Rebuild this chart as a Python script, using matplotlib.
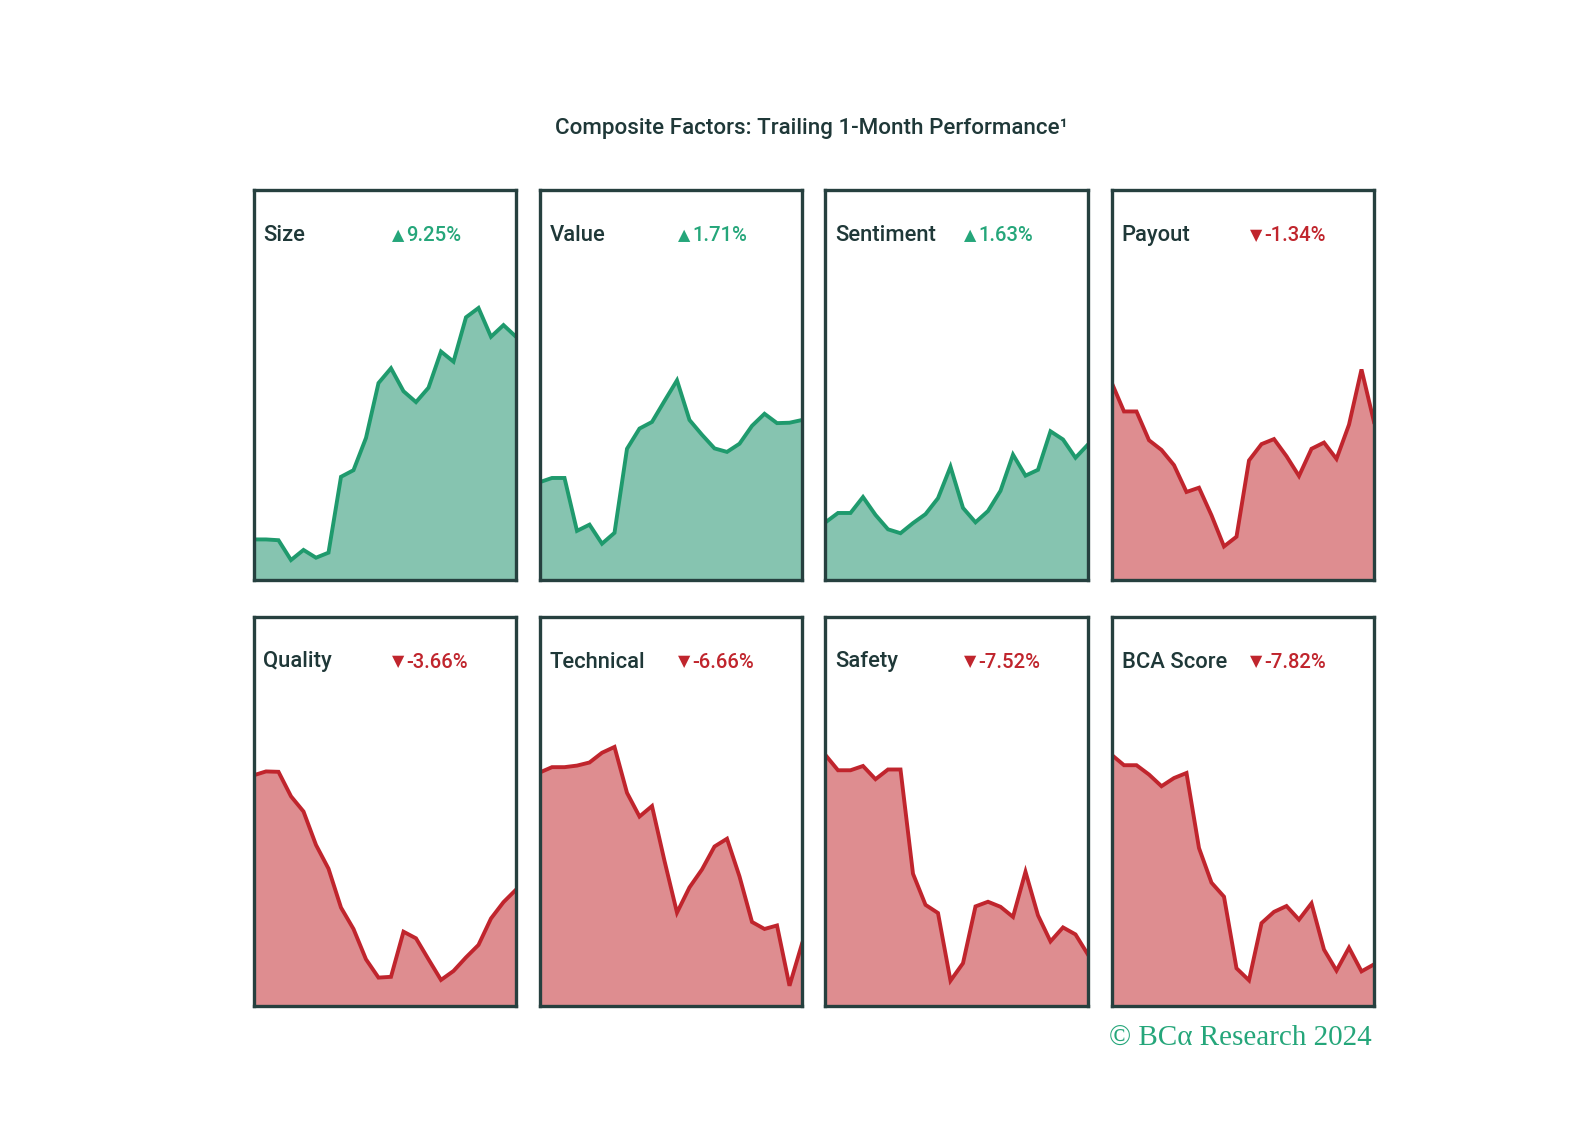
import matplotlib
matplotlib.use("Agg")
import matplotlib.pyplot as plt
import numpy as np

# trailing 1-month index paths (0-100 panel scale)
names = ["Size", "Value", "Sentiment", "Payout",
         "Quality", "Technical", "Safety", "BCA Score"]
returns = [9.25, 1.71, 1.63, -1.34, -3.66, -6.66, -7.52, -7.82]

size_vals = [10.3, 10.3, 10.1, 5.0, 7.6, 5.6, 6.9, 26.4, 28.1, 36.4, 50.5,
             54.3, 48.4, 45.6, 49.3, 58.6, 56.0, 67.4, 69.8, 62.4, 65.4, 62.4]
value_vals = [25.0, 26.1, 26.1, 12.5, 14.1, 9.2, 12.0, 33.6, 38.8, 40.5, 45.9,
              51.2, 41.0, 37.2, 33.7, 32.8, 34.9, 39.5, 42.6, 40.2, 40.3, 41.0]
sentiment_vals = [14.7, 17.1, 17.1, 21.2, 16.6, 12.9, 11.9, 14.5, 16.8, 20.9, 29.0,
                  18.4, 14.7, 17.6, 22.8, 32.1, 26.7, 28.2, 38.1, 36.0, 31.3, 34.7]
payout_vals = [50.7, 43.2, 43.2, 35.8, 33.3, 29.4, 22.5, 23.6, 16.5, 8.5, 11.0,
               30.6, 34.8, 36.1, 31.7, 26.6, 33.6, 35.2, 31.0, 39.8, 54.0, 40.5]
quality_vals = [59.3, 60.3, 60.2, 53.9, 50.0, 41.4, 35.3, 25.3, 19.8, 12.0, 7.3,
                7.5, 19.1, 17.4, 12.0, 6.7, 9.0, 12.5, 15.7, 22.5, 26.7, 29.9]
technical_vals = [60.0, 61.4, 61.4, 61.8, 62.6, 65.1, 66.6, 54.8, 48.7, 51.4, 37.3,
                  24.0, 30.5, 35.1, 41.0, 43.0, 33.3, 21.6, 19.8, 20.7, 5.2, 16.0]
safety_vals = [64.5, 60.6, 60.6, 61.7, 58.3, 60.8, 60.8, 34.0, 26.0, 23.9, 6.5,
               11.0, 25.6, 26.8, 25.5, 22.9, 34.5, 23.3, 16.6, 20.2, 18.4, 13.2]
bca_vals = [64.6, 61.9, 61.9, 59.5, 56.5, 58.6, 59.9, 40.6, 31.7, 28.1, 9.7,
            6.6, 21.3, 24.2, 25.7, 22.2, 26.4, 14.5, 9.1, 15.0, 8.9, 10.7]

series = [size_vals, value_vals, sentiment_vals, payout_vals,
          quality_vals, technical_vals, safety_vals, bca_vals]

GREEN_LINE, GREEN_FILL, GREEN_TXT = "#1f9a6d", "#86c4b0", "#25a67a"
RED_LINE, RED_FILL = "#c0252d", "#de8d90"
FRAME = "#26403f"
DARK = "#1f3838"
SANS = ["Roboto", "DejaVu Sans"]

W, H = 1596, 1144
fig = plt.figure(figsize=(W / 100, H / 100), dpi=100)
fig.patch.set_facecolor("white")

lefts = [253.5, 539.5, 825.5, 1111.5]
tops = [190.5, 617]
pw, ph = 262.5, 389

fig.text(811 / W, 1 - 128.5 / H, "Composite Factors: Trailing 1-Month Performance\u00b9",
         ha="center", va="center", fontsize=16.1, fontweight="medium",
         color=DARK, family=SANS)

for i, (name, ret, vals) in enumerate(zip(names, returns, series)):
    r, c = divmod(i, 4)
    x0 = lefts[c]
    y0 = tops[r]
    ax = fig.add_axes([x0 / W, 1 - (y0 + ph) / H, pw / W, ph / H])
    x = np.arange(len(vals))
    up = ret >= 0
    lc = GREEN_LINE if up else RED_LINE
    fc = GREEN_FILL if up else RED_FILL
    ax.fill_between(x, 0, vals, color=fc, lw=0)
    ax.plot(x, vals, color=lc, lw=2.8, solid_joinstyle="miter")
    ax.set_xlim(0, len(vals) - 1)
    ax.set_ylim(0, 100)
    ax.set_xticks([]); ax.set_yticks([])
    for s in ax.spines.values():
        s.set_color(FRAME); s.set_linewidth(2.4)
    ax.text(10 / pw, 1 - 45 / ph, name, transform=ax.transAxes, ha="left",
            va="center", fontsize=15.8, fontweight="medium", color=DARK, family=SANS)
    tc = GREEN_TXT if up else RED_LINE
    ax.text(138.5 / pw, 1 - 45 / ph, "\u25b2" if up else "\u25bc", transform=ax.transAxes,
            ha="left", va="center", fontsize=11.5, color=tc, family="DejaVu Sans")
    ax.text(153 / pw, 1 - 45 / ph, f"{ret:.2f}%", transform=ax.transAxes,
            ha="left", va="center", fontsize=14.6, fontweight="medium", color=tc,
            family=SANS)

fig.text(1372 / W, 1 - 1038 / H, "\u00a9 BC\u03b1 Research 2024", ha="right",
         va="center", fontsize=21, color=GREEN_TXT,
         family=["Liberation Serif", "DejaVu Serif"])

fig.savefig("out.png", dpi=100)
